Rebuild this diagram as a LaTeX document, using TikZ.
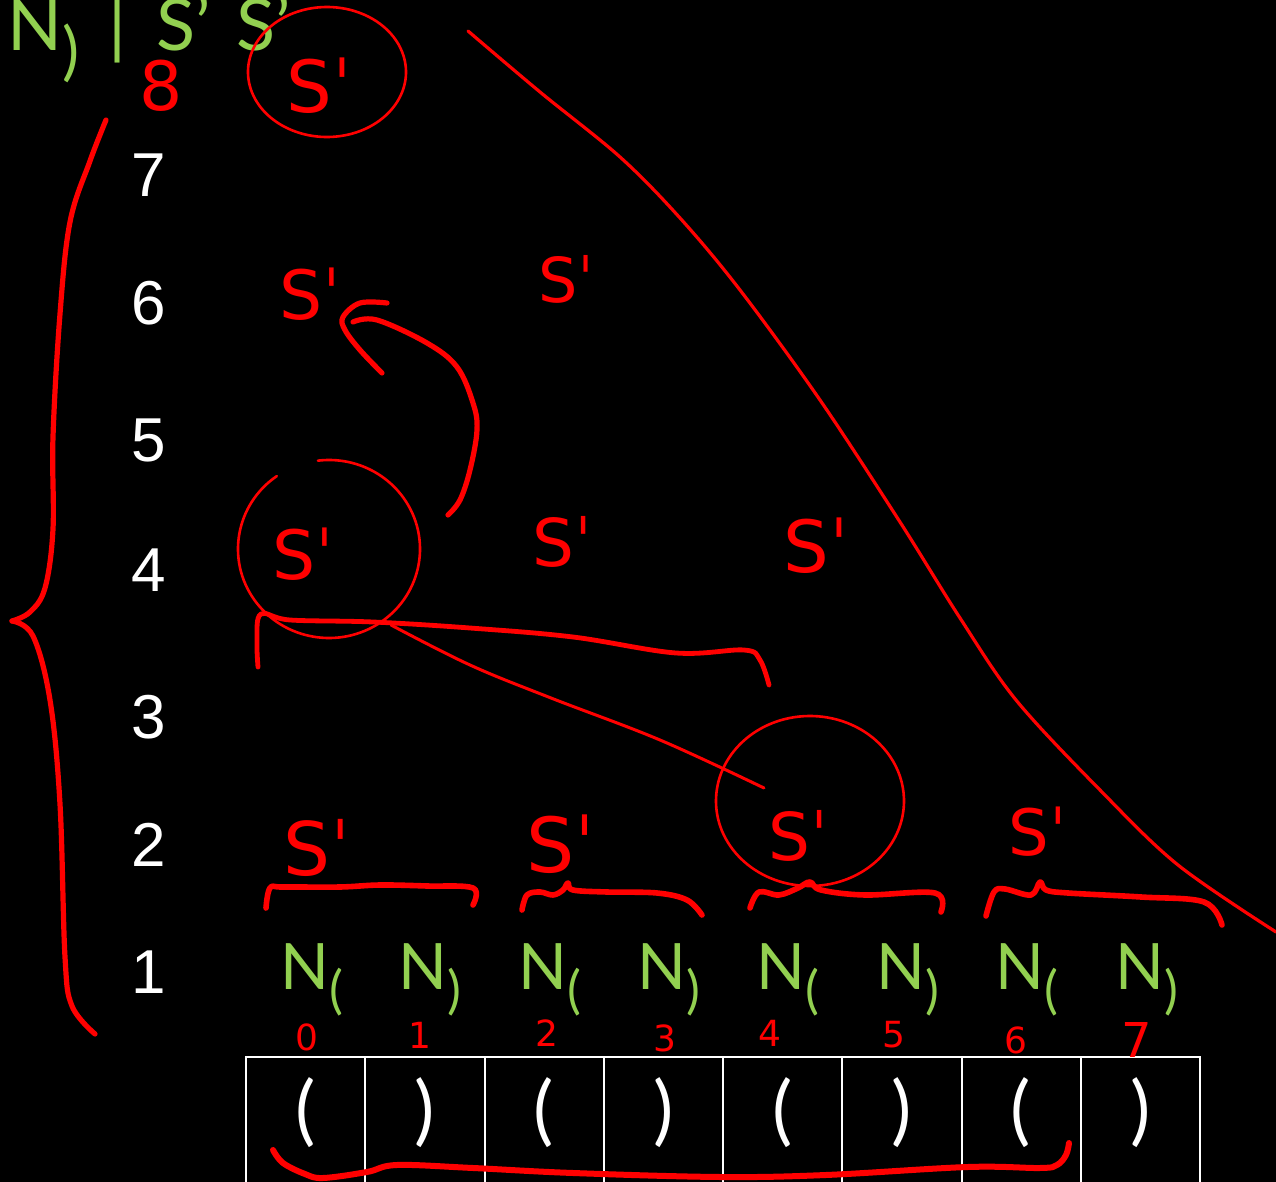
\documentclass[tikz,border=0pt]{standalone}
\usepackage{fontspec}
\newfontfamily\gfont{Lato}
\newfontfamily\wfont{Liberation Sans}
\newfontfamily\hfont{DejaVu Sans}
\definecolor{ngreen}{RGB}{146,208,80}
\newcommand\nsub[1]{\raisebox{-9.5pt}{\fontsize{26}{26}\selectfont #1}}
\begin{document}
\begin{tikzpicture}[x=0.5pt,y=-0.5pt,
  wnum/.style={text=white,font=\wfont\fontsize{31}{31}\selectfont,inner sep=0pt,anchor=center},
  gN/.style={text=ngreen,font=\gfont\fontsize{32}{32}\selectfont,inner sep=0pt,anchor=base west},
  gtop/.style={text=ngreen,font=\gfont\fontsize{36}{36}\selectfont,inner sep=0pt,anchor=base west},
  hand/.style={text=red,font=\hfont\fontsize{#1}{#1}\selectfont,inner sep=0pt,anchor=base west},
  idx/.style={text=red,font=\hfont\fontsize{18}{18}\selectfont,inner sep=0pt,anchor=center},
  cellp/.style={text=white,font=\gfont\fontsize{38}{38}\selectfont,inner sep=0pt,anchor=center},
  pen/.style={draw=red,line width=#1,line cap=round,line join=round},
  grid/.style={draw=white,line width=1pt}
]
\useasboundingbox (0,0) rectangle (1276,1182);
\fill[black] (0,0) rectangle (1276,1182);
\clip (0,0) rectangle (1276,1182);

% ---- top green text
\node[gtop] (tN) at (7,51) {N\raisebox{-11.4pt}{\fontsize{32}{32}\selectfont)}};
\node[gtop,anchor=base] (tbar) at (118,51) {|};
\node[gtop] (tS1) at (156,51) {S’};
\node[gtop] (tS2) at (236,51) {S’};

% ---- white row numbers
\node[wnum] (r7) at (149,175) {7};
\node[wnum] (r6) at (149,303) {6};
\node[wnum] (r5) at (149,440) {5};
\node[wnum] (r4) at (149,570) {4};
\node[wnum] (r3) at (149,717) {3};
\node[wnum] (r2) at (149,845) {2};
\node[wnum] (r1) at (149,972) {1};

% ---- green N labels
\node[gN] (n0) at (280,989) {N\nsub{(}};
\node[gN] (n1) at (398,989) {N\nsub{)}};
\node[gN] (n2) at (518,989) {N\nsub{(}};
\node[gN] (n3) at (637,989) {N\nsub{)}};
\node[gN] (n4) at (756,989) {N\nsub{(}};
\node[gN] (n5) at (876,989) {N\nsub{)}};
\node[gN] (n6) at (995,989) {N\nsub{(}};
\node[gN] (n7) at (1115,989) {N\nsub{)}};

% ---- table
\draw[grid] (246,1200) -- (246,1057) -- (1200,1057) -- (1200,1200);
\foreach \k in {1,...,7} \draw[grid] ({246+119.25*\k},1057) -- ({246+119.25*\k},1200);
\node[cellp] (p0) at (305.6,1113) {(};
\node[cellp] (p1) at (424.9,1113) {)};
\node[cellp] (p2) at (544.1,1113) {(};
\node[cellp] (p3) at (663.4,1113) {)};
\node[cellp] (p4) at (782.6,1113) {(};
\node[cellp] (p5) at (901.9,1113) {)};
\node[cellp] (p6) at (1021.1,1113) {(};
\node[cellp] (p7) at (1140.4,1113) {)};

% ---- red indices
\node[idx] (i0) at (307,1037) {0};
\node[idx] (i1) at (420,1035) {1};
\node[idx] (i2) at (547,1033) {2};
\node[idx] (i3) at (665,1038) {3};
\node[idx] (i4) at (770,1033) {4};
\node[idx] (i5) at (894,1035) {5};
\node[idx] (i6) at (1016,1040) {6};
\node[idx,font=\hfont\fontsize{24}{24}\selectfont] (i7) at (1137,1040) {7};
\node[idx,font=\hfont\fontsize{34}{34}\selectfont] (i8) at (161,86) {8};

% ---- red S' marks
\node[hand=36] (s8) at (286,113) {Sˈ};
\node[hand=34] (s6a) at (279,320) {Sˈ};
\node[hand=31] (s6b) at (538,303) {Sˈ};
\node[hand=34] (s4a) at (272,580) {Sˈ};
\node[hand=33] (s4b) at (532,567) {Sˈ};
\node[hand=36] (s4c) at (783,573) {Sˈ};
\node[hand=37] (s2a) at (283,875) {Sˈ};
\node[hand=38] (s2b) at (526,872) {Sˈ};
\node[hand=33] (s2c) at (768,860) {Sˈ};
\node[hand=32] (s2d) at (1008,855) {Sˈ};

% ---- circles
\draw[pen=1.3pt] ([shift={(260:79 and 65)}]327,72) arc[start angle=260, end angle=-112, x radius=79, y radius=65];
\draw[pen=1.3pt] ([shift={(235:91 and 89)}]329,549) arc[start angle=235, end angle=-97, x radius=91, y radius=89];
\draw[pen=1.3pt] ([shift={(272:94 and 85)}]810,801) arc[start angle=272, end angle=-106, x radius=94, y radius=85];

% ---- big descending curve
\draw[pen=1.6pt] plot[smooth,tension=0.55] coordinates {(468,31) (540,92) (620,157) (680,218) (740,290) (820,400) (900,522) (960,618) (1016,700) (1100,790) (1178,865) (1276,932)};

% ---- left brace
\draw[pen=2.6pt] plot[smooth,tension=0.6] coordinates {(106,120) (90,161) (70,222) (60,314) (53,437) (53,529) (45,588) (30,612) (12,621)};
\draw[pen=2.6pt] plot[smooth,tension=0.6] coordinates {(12,621) (33,636) (50,700) (60,804) (65,957) (72,1006) (95,1034)};

% ---- arrow from row 4 to row 6
\draw[pen=2.6pt] plot[smooth,tension=0.6] coordinates {(448,515) (460,500) (470,470) (477,430) (473,403) (457,367) (427,343) (377,320) (353,322)};
\draw[pen=2.6pt] plot[smooth,tension=0.6] coordinates {(387,303) (360,303) (343,317) (345,330) (360,350) (382,373)};

% ---- brace under row 4 and diagonal link
\draw[pen=2.4pt] plot[smooth,tension=0.6] coordinates {(258,667) (257,640) (261,614) (290,620) (373,622) (470,628) (573,637) (676,653) (744,650) (760,660) (769,685)};
\draw[pen=1.5pt] plot[smooth,tension=0.6] coordinates {(391,625) (470,665) (551,698) (660,740) (764,788)};

% ---- braces under row 2
\draw[pen=2.8pt] plot[smooth,tension=0.6] coordinates {(266,908) (270,888) (283,887) (340,887) (380,885) (427,886) (473,888) (473,905)};
\draw[pen=2.8pt] plot[smooth,tension=0.6] coordinates {(522,910) (527,895) (540,892) (553,895) (563,890) (568,883) (573,890) (607,892) (657,893) (687,900) (702,915)};
\draw[pen=2.8pt] plot[smooth,tension=0.6] coordinates {(750,908) (759,892) (779,895) (798,888) (810,882) (821,890) (865,895) (935,893) (941,912)};
\draw[pen=2.8pt] plot[smooth,tension=0.6] coordinates {(986,916) (994,892) (1005,889) (1031,895) (1040,882) (1046,890) (1068,893) (1141,897) (1204,902) (1222,925)};

% ---- brace under the table
\draw[pen=3pt] plot[smooth,tension=0.6] coordinates {(273,1150) (283,1163) (305,1174) (323,1178) (367,1172) (397,1165) (473,1168) (573,1173) (720,1177) (826,1175) (968,1167) (1040,1168) (1057,1165) (1066,1155) (1069,1143)};
\end{tikzpicture}
\end{document}
